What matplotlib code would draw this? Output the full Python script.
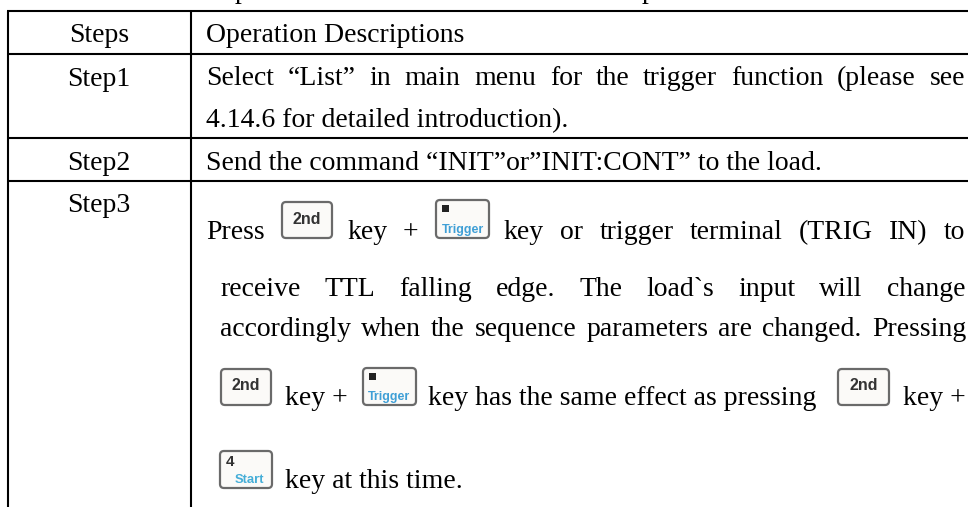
import matplotlib
matplotlib.use("Agg")
import matplotlib.pyplot as plt
from matplotlib.patches import FancyBboxPatch, Rectangle

# Tabla
header = ["Steps", "Operation Descriptions"]
steps = ["Step1", "Step2", "Step3"]
step_base = [86, 170, 212]
row_lines = [11, 53.5, 137.5, 180.5]
col_lines = [8, 191]

# lineas justificadas: x inicial, base, x final, palabras
justified = [
    (206, 85, 965, "Select “List” in main menu for the trigger function (please see"),
    (504, 239, 965, "key or trigger terminal (TRIG IN) to"),
    (220, 296, 965, "receive TTL falling edge. The load`s input will change"),
    (220, 336, 966, "accordingly when the sequence parameters are changed. Pressing"),
]
# texto suelto: x, base, texto
plain = [
    (206, 127, "4.14.6 for detailed introduction)."),
    (206, 170, "Send the command “INIT”or”INIT:CONT” to the load."),
    (206, 239, "Press"),
    (348, 239, "key"),
    (403, 239, "+"),
    (285, 405, "key +"),
    (428, 405, "key has the same effect as pressing"),
    (903, 405, "key +"),
    (285, 488, "key at this time."),
]
# teclas: tipo, x0, x1, y0, y1
keys = [
    ("2nd", 282, 332, 202, 238),
    ("Trigger", 436, 489, 200, 238),
    ("2nd", 221, 271, 369, 405),
    ("Trigger", 363, 416, 368, 405),
    ("2nd", 838, 889, 369, 405),
    ("Start", 220, 272, 451, 488),
]

fig = plt.figure(figsize=(9.68, 5.07), dpi=100)
ax = fig.add_axes([0, 0, 1, 1])
ax.set_xlim(0, 968)
ax.set_ylim(507, 0)
ax.axis("off")
font = "Liberation Serif"
fs = 20
sans = "Liberation Sans"


def put(x, y, s):
    return ax.text(x, y, s, family=font, fontsize=fs, color="black", ha="left", va="baseline")


def draw_key(kind, x0, x1, y0, y1):
    ax.add_patch(FancyBboxPatch((x0, y0), x1 - x0, y1 - y0, boxstyle="round,pad=0,rounding_size=4",
                                fc="#fbfaf8", ec="#6a6a6a", lw=1.6, zorder=3))
    xc = (x0 + x1) / 2
    if kind == "2nd":
        ax.text(xc, (y0 + y1) / 2 - 1, "2nd", family=sans, fontsize=11.5, fontweight="bold", color="#333333",
                ha="center", va="center", zorder=4)
    elif kind == "Trigger":
        ax.add_patch(Rectangle((x0 + 6, y0 + 5), 7, 7, fc="#222222", ec="none", zorder=4))
        ax.text(xc, y1 - 5, "Trigger", family=sans, fontsize=9, fontweight="bold", color="#3f9fd6",
                ha="center", va="baseline", zorder=4)
    else:
        ax.text(x0 + 6, y0 + 15, "4", family=sans, fontsize=11, fontweight="bold", color="#333333",
                ha="left", va="baseline", zorder=4)
        ax.text(x1 - 8, y1 - 5, "Start", family=sans, fontsize=9.4, fontweight="bold", color="#45aed8",
                ha="right", va="baseline", zorder=4)


# Lineas de la tabla
for y in row_lines:
    ax.plot([7, 968], [y, y], color="black", lw=1.5, solid_capstyle="butt")
for x in col_lines:
    ax.plot([x, x], [11, 507], color="black", lw=1.5, solid_capstyle="butt")

# Descendentes del titulo cortado arriba
put(235, -2, "p")
put(642, -2, "p")

ax.text(99, 42, header[0], family=font, fontsize=fs, color="black", ha="center", va="baseline")
put(206, 42, header[1])
for s, y in zip(steps, step_base):
    ax.text(99, y, s, family=font, fontsize=fs, color="black", ha="center", va="baseline")

for x, y, s in plain:
    put(x, y, s)

# Justificado
renderer = fig.canvas.get_renderer()
for x0, y, x1, line in justified:
    items = [put(x0, y, w) for w in line.split()]
    widths = [t.get_window_extent(renderer).width for t in items]
    gap = (x1 - x0 - sum(widths)) / (len(items) - 1)
    cx = x0
    for t, wd in zip(items, widths):
        t.set_x(cx)
        cx += wd + gap

for k in keys:
    draw_key(*k)

fig.savefig("out.png", dpi=100)
